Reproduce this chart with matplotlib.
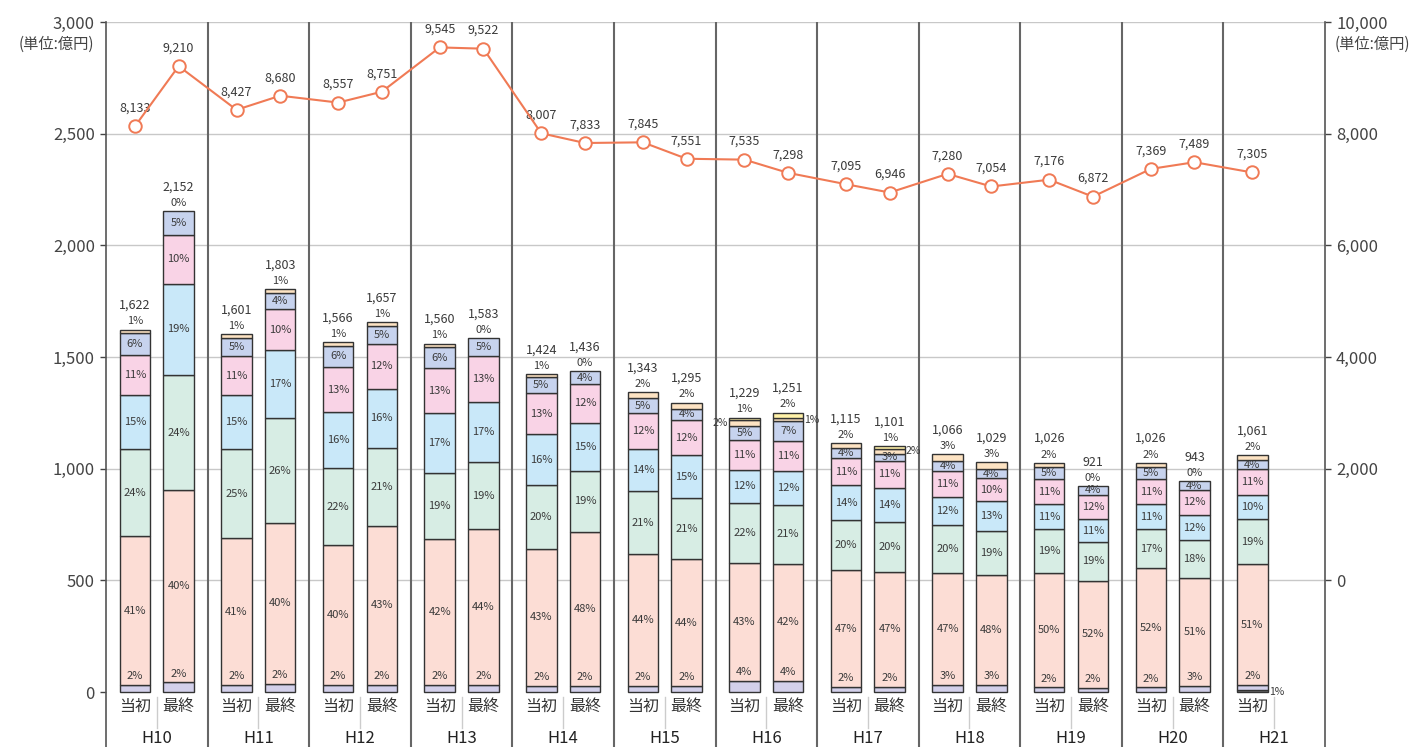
import matplotlib.pyplot as plt
import numpy as np
from matplotlib.ticker import FuncFormatter

plt.rcParams['font.family'] = ['Noto Sans CJK JP', 'DejaVu Sans']

# ---------------------------------------------------------------
# data
# ---------------------------------------------------------------
years = ['H10', 'H11', 'H12', 'H13', 'H14', 'H15', 'H16', 'H17', 'H18', 'H19', 'H20', 'H21']
kinds = ['当初', '最終']

totals = [1622, 2152, 1601, 1803, 1566, 1657, 1560, 1583, 1424, 1436, 1343, 1295,
          1229, 1251, 1115, 1101, 1066, 1029, 1026, 921, 1026, 943, 1061]
line_vals = [8133, 9210, 8427, 8680, 8557, 8751, 9545, 9522, 8007, 7833, 7845, 7551,
             7535, 7298, 7095, 6946, 7280, 7054, 7176, 6872, 7369, 7489, 7305]

# shares (%) per bar, bottom to top
p_gray   = [0] * 22 + [1]
p_lav    = [2, 2, 2, 2, 2, 2, 2, 2, 2, 2, 2, 2, 4, 4, 2, 2, 3, 3, 2, 2, 2, 3, 2]
p_salmon = [41, 40, 41, 40, 40, 43, 42, 44, 43, 48, 44, 44, 43, 42, 47, 47, 47, 48, 50, 52, 52, 51, 51]
p_green  = [24, 24, 25, 26, 22, 21, 19, 19, 20, 19, 21, 21, 22, 21, 20, 20, 20, 19, 19, 19, 17, 18, 19]
p_blue   = [15, 19, 15, 17, 16, 16, 17, 17, 16, 15, 14, 15, 12, 12, 14, 14, 12, 13, 11, 11, 11, 12, 10]
p_pink   = [11, 10, 11, 10, 13, 12, 13, 13, 13, 12, 12, 12, 11, 11, 11, 11, 11, 10, 11, 12, 11, 12, 11]
p_peri   = [6, 5, 5, 4, 6, 5, 6, 5, 5, 4, 5, 4, 5, 7, 4, 3, 4, 4, 5, 4, 5, 4, 4]
p_peach  = [1, 0, 1, 1, 1, 1, 1, 0, 1, 0, 2, 2, 2, 1, 2, 2, 3, 3, 2, 0, 2, 0, 2]
p_yellow = [0] * 12 + [1, 2, 0, 1] + [0] * 7

# side label placement for peach where a yellow layer sits on top
side_dir = {12: -1, 13: 1, 15: 1}

layers = [p_gray, p_lav, p_salmon, p_green, p_blue, p_pink, p_peri, p_peach, p_yellow]
colors = ['#7a7a7a', '#d3d0ea', '#fcddd5', '#d7ede4', '#c9e8f9', '#f9d3e6', '#c7d3ee', '#fde3c3', '#fff2a8']

TXT = '#3a3a3a'
LINE = '#f07a55'

# ---------------------------------------------------------------
# figure
# ---------------------------------------------------------------
fig = plt.figure(figsize=(14.17, 7.47), dpi=100)
ax = fig.add_axes([106 / 1417, 0, (1325 - 106) / 1417, (747 - 22) / 747])
ax.set_xlim(0, 12)
ax.set_ylim(-246, 3000)

n = len(totals)
xs = np.array([k // 2 + 0.5 + (-0.215 if k % 2 == 0 else 0.215) for k in range(n)])
tot = np.array(totals, dtype=float)

for yv in [500, 1000, 1500, 2000, 2500, 3000]:
    ax.axhline(yv, color='#c8c8c8', lw=1, zorder=0)
for g in range(1, 12):
    ax.axvline(g, color='#666666', lw=1.5, zorder=1)

bottom = np.zeros(n)
for vals, col in zip(layers, colors):
    h = tot * np.array(vals) / 100.0
    mask = h > 0
    ax.bar(xs[mask], h[mask], 0.3, bottom=bottom[mask], color=col,
           edgecolor='#333333', linewidth=1, zorder=3)
    bottom = bottom + h

# percent labels
for k in range(n):
    t = tot[k]
    b_gray = t * p_gray[k] / 100
    b_lav = b_gray + t * p_lav[k] / 100
    # bottom share, written inside the salmon part
    ax.text(xs[k], b_lav + 40, f'{p_lav[k]}%', ha='center', va='center',
            fontsize=8, color=TXT, zorder=5)
    if p_gray[k] > 0:
        ax.text(xs[k] + 0.16, b_gray / 2 - 5, f'{p_gray[k]}%', ha='left', va='center',
                fontsize=7.5, color=TXT, zorder=5)
    cur = b_lav
    for vals in [p_salmon, p_green, p_blue, p_pink, p_peri]:
        h = t * vals[k] / 100
        ax.text(xs[k], cur + h / 2, f'{vals[k]}%', ha='center', va='center',
                fontsize=8, color=TXT, zorder=5)
        cur += h
    h_peach = t * p_peach[k] / 100
    if p_yellow[k] > 0:
        top_pct = p_yellow[k]
        d = side_dir[k]
        ax.text(xs[k] + d * 0.16, cur + h_peach / 2, f'{p_peach[k]}%',
                ha='left' if d > 0 else 'right', va='center', fontsize=7.5, color=TXT, zorder=5)
    else:
        top_pct = p_peach[k]
    ax.annotate(f'{top_pct}%', (xs[k], t), xytext=(0, 6), textcoords='offset points',
                ha='center', va='center', fontsize=8, color=TXT)
    ax.annotate(f'{totals[k]:,}', (xs[k], t), xytext=(0, 17.5), textcoords='offset points',
                ha='center', va='center', fontsize=9, color=TXT)

# category labels under bars
for g, yr in enumerate(years):
    ax.plot([g + 0.5, g + 0.5], [-22, -160], color='#cccccc', lw=1, zorder=2)
    ax.text(g + 0.5, -206, yr, ha='center', va='center', fontsize=12, color='#222222')
for k in range(n):
    ax.text(xs[k], -63, kinds[k % 2], ha='center', va='center', fontsize=11.5, color='#333333')

ax.set_xticks([])
ax.set_yticks([0, 500, 1000, 1500, 2000, 2500, 3000])
ax.yaxis.set_major_formatter(FuncFormatter(lambda v, p: f'{int(v):,}'))
ax.tick_params(axis='y', length=4, width=1, colors='#444444', labelsize=12, pad=4)
for s in ['top', 'bottom', 'right']:
    ax.spines[s].set_visible(False)
ax.spines['left'].set_color('#555555')
ax.spines['left'].set_linewidth(1.2)

# right axis and line
ax2 = ax.twinx()
lo, hi = ax.get_ylim()
ax2.set_ylim((lo - 500) * 4, (hi - 500) * 4)
ax2.plot(xs, line_vals, color=LINE, lw=1.5, marker='o', markersize=9,
         markerfacecolor='white', markeredgecolor=LINE, markeredgewidth=1.4, zorder=6)
for k in range(n):
    ax2.annotate(f'{line_vals[k]:,}', (xs[k], line_vals[k]), xytext=(0, 13),
                 textcoords='offset points', ha='center', va='center', fontsize=9, color=TXT)
ax2.set_yticks([0, 2000, 4000, 6000, 8000, 10000])
ax2.yaxis.set_major_formatter(FuncFormatter(lambda v, p: f'{int(v):,}'))
ax2.tick_params(axis='y', length=4, width=1, colors='#444444', labelsize=12, pad=4)
for s in ['top', 'bottom', 'left']:
    ax2.spines[s].set_visible(False)
ax2.spines['right'].set_color('#555555')
ax2.spines['right'].set_linewidth(1.2)

fig.text(56 / 1417, 1 - 44 / 747, '(単位:億円)', ha='center', va='center', fontsize=11, color='#444444')
fig.text(1372 / 1417, 1 - 44 / 747, '(単位:億円)', ha='center', va='center', fontsize=11, color='#444444')

fig.savefig('out.png', dpi=100)
